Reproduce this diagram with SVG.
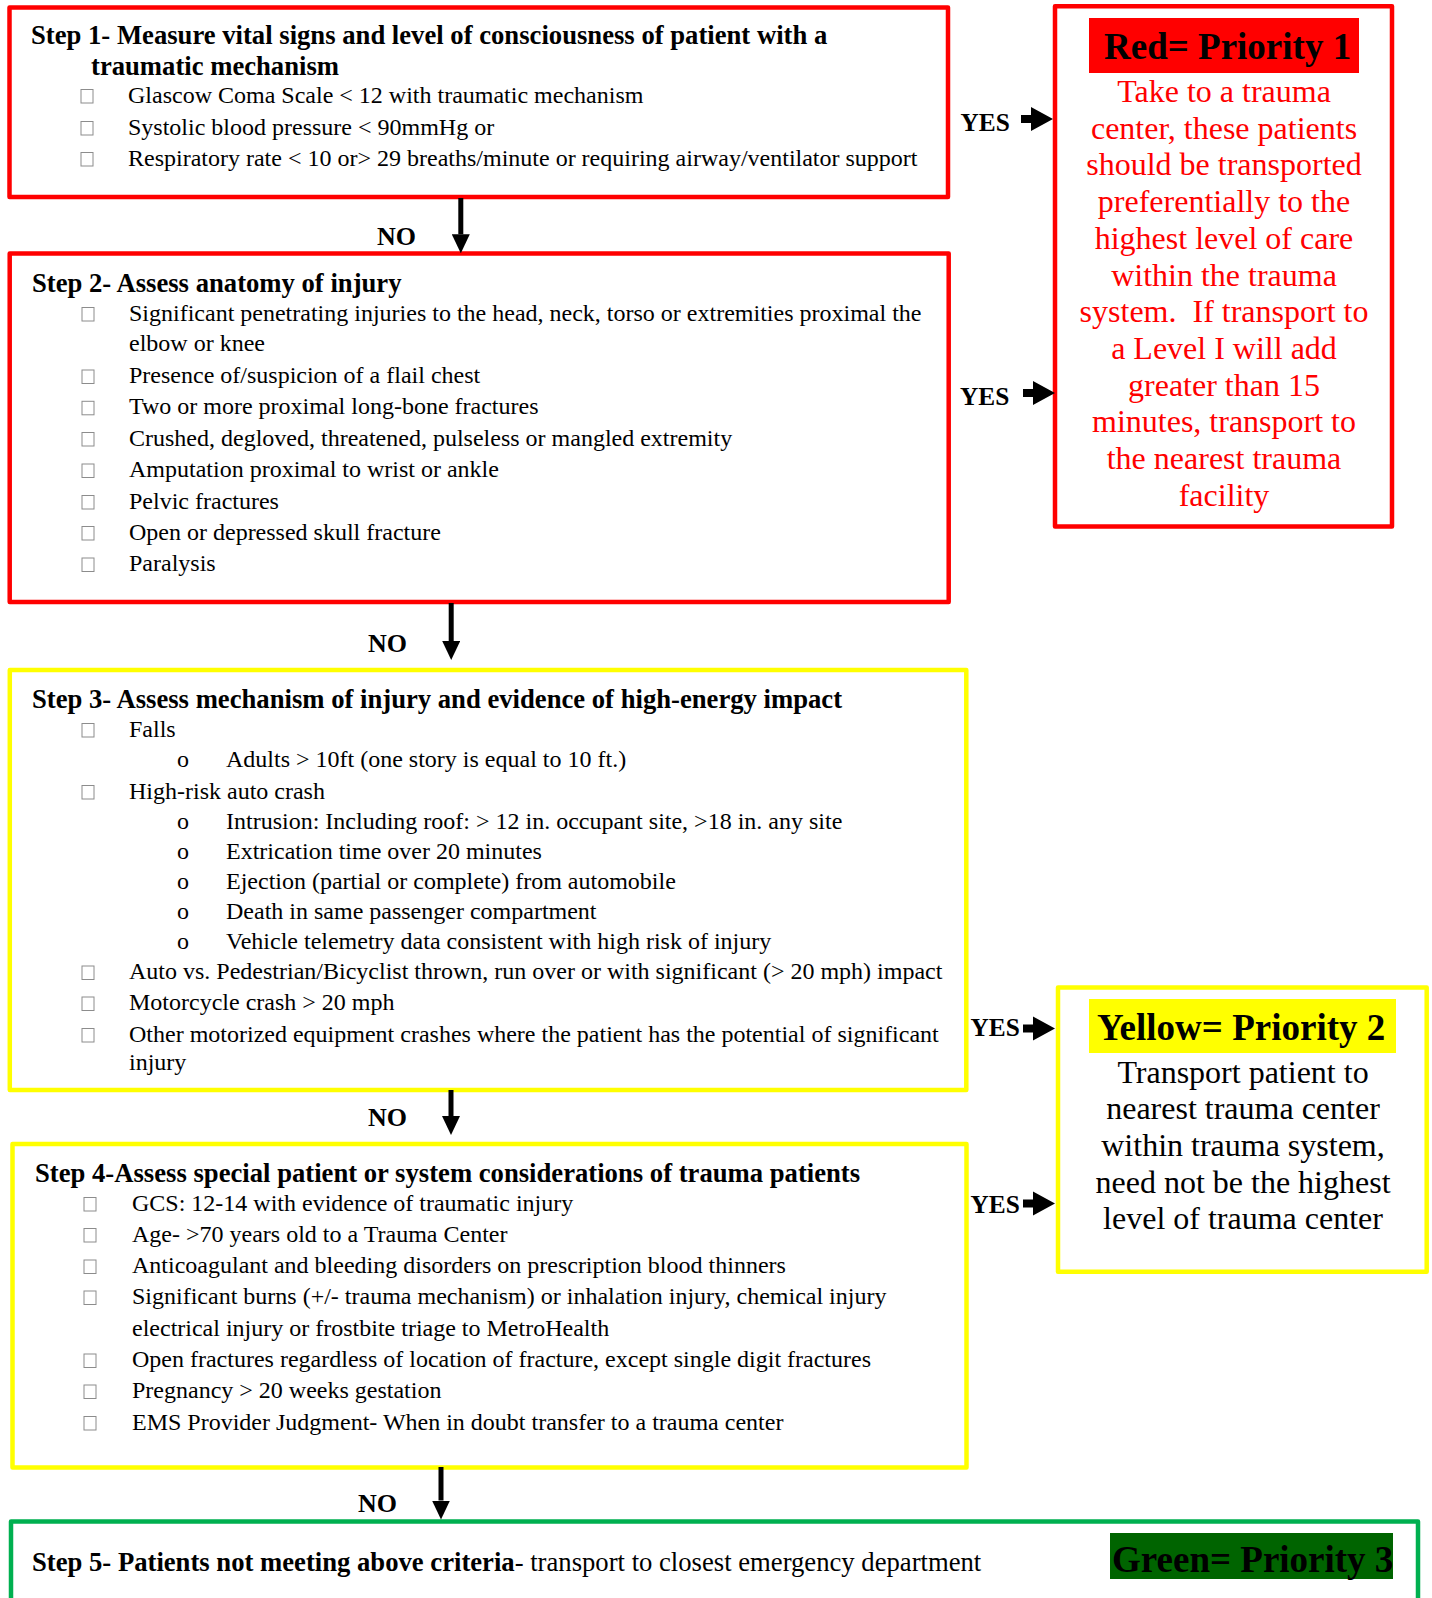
<svg xmlns="http://www.w3.org/2000/svg" xmlns:xlink="http://www.w3.org/1999/xlink" width="1432" height="1598" viewBox="0 0 1432 1598">
<style>
.box{fill:none;stroke-width:4.5;stroke-linejoin:round}
.red{stroke:#FF0000}
.yel{stroke:#FFFF00}
.grn{stroke:#00B050}
.f{font-family:'Liberation Serif','Times New Roman',serif}
.h{font-family:'Liberation Serif','Times New Roman',serif;font-weight:bold;font-size:26.67px;fill:#000}
.t{font-family:'Liberation Serif','Times New Roman',serif;font-size:24px;fill:#000}
.o{font-family:'Liberation Serif','Times New Roman',serif;font-size:24px;fill:#000}
.cb{fill:#fff;stroke:#8c8c8c;stroke-width:1}
.no{font-family:'Liberation Serif','Times New Roman',serif;font-weight:bold;font-size:26px;fill:#000}
.yes{font-family:'Liberation Serif','Times New Roman',serif;font-weight:bold;font-size:25.3px;fill:#000}
.big{font-family:'Liberation Serif','Times New Roman',serif;font-weight:bold;font-size:37px;fill:#000}
.rt{font-family:'Liberation Serif','Times New Roman',serif;font-size:32px;fill:#FF0000;text-anchor:middle}
.yt{font-family:'Liberation Serif','Times New Roman',serif;font-size:32px;fill:#000;text-anchor:middle}
.shaft{stroke:#000;stroke-width:5;fill:none}
</style>
<defs>
<rect id="cb" class="cb" width="12" height="13.5"/>
<marker id="ah" markerUnits="userSpaceOnUse" markerWidth="19" markerHeight="18" refX="0" refY="9" orient="auto">
<path d="M0,0 L19,9 L0,18 z" fill="#000"/>
</marker>
<path id="blk" d="M0,-4 L10,-4 L10,-12 L32,0 L10,12 L10,4 L0,4 z" fill="#000"/>
</defs>
<rect width="1432" height="1598" fill="#fff"/>

<g id="step1">
<rect class="box red" x="9.5" y="7.5" width="938.5" height="189.5"/>
<g transform="translate(0,1.5)">
<text class="h" x="31" y="42">Step 1- Measure vital signs and level of consciousness of patient with a</text>
<text class="h" x="91" y="73">traumatic mechanism</text>
<use xlink:href="#cb" x="81" y="88"/>
<text class="t" x="128" y="101">Glascow Coma Scale &lt; 12 with traumatic mechanism</text>
<use xlink:href="#cb" x="81" y="120"/>
<text class="t" x="128" y="133">Systolic blood pressure &lt; 90mmHg or</text>
<use xlink:href="#cb" x="81" y="151"/>
<text class="t" x="128" y="164">Respiratory rate &lt; 10 or&gt; 29 breaths/minute or requiring airway/ventilator support</text>
</g>
</g>

<g id="step2">
<rect class="box red" x="9.7" y="253.5" width="939" height="348.5"/>
<g transform="translate(0,1.5)">
<text class="h" x="32" y="290">Step 2- Assess anatomy of injury</text>
<use xlink:href="#cb" x="82" y="306"/>
<text class="t" x="129" y="319">Significant penetrating injuries to the head, neck, torso or extremities proximal the</text>
<text class="t" x="129" y="349">elbow or knee</text>
<use xlink:href="#cb" x="82" y="368.5"/>
<text class="t" x="129" y="381.5">Presence of/suspicion of a flail chest</text>
<use xlink:href="#cb" x="82" y="399.8"/>
<text class="t" x="129" y="412.8">Two or more proximal long-bone fractures</text>
<use xlink:href="#cb" x="82" y="431"/>
<text class="t" x="129" y="444">Crushed, degloved, threatened, pulseless or mangled extremity</text>
<use xlink:href="#cb" x="82" y="462.5"/>
<text class="t" x="129" y="475.5">Amputation proximal to wrist or ankle</text>
<use xlink:href="#cb" x="82" y="494"/>
<text class="t" x="129" y="507">Pelvic fractures</text>
<use xlink:href="#cb" x="82" y="525"/>
<text class="t" x="129" y="538">Open or depressed skull fracture</text>
<use xlink:href="#cb" x="82" y="556.5"/>
<text class="t" x="129" y="569.5">Paralysis</text>
</g>
</g>

<g id="step3">
<rect class="box yel" x="9.8" y="670" width="956.5" height="420"/>
<g transform="translate(0,1.5)">
<text class="h" x="32" y="706">Step 3- Assess mechanism of injury and evidence of high-energy impact</text>
<use xlink:href="#cb" x="82" y="722"/>
<text class="t" x="129" y="735">Falls</text>
<text class="o" x="177" y="765">o</text>
<text class="t" x="226" y="765">Adults &gt; 10ft (one story is equal to 10 ft.)</text>
<use xlink:href="#cb" x="82" y="784"/>
<text class="t" x="129" y="797">High-risk auto crash</text>
<text class="o" x="177" y="827">o</text>
<text class="t" x="226" y="827">Intrusion: Including roof: &gt; 12 in. occupant site, &gt;18 in. any site</text>
<text class="o" x="177" y="857">o</text>
<text class="t" x="226" y="857">Extrication time over 20 minutes</text>
<text class="o" x="177" y="887">o</text>
<text class="t" x="226" y="887">Ejection (partial or complete) from automobile</text>
<text class="o" x="177" y="917">o</text>
<text class="t" x="226" y="917">Death in same passenger compartment</text>
<text class="o" x="177" y="947">o</text>
<text class="t" x="226" y="947">Vehicle telemetry data consistent with high risk of injury</text>
<use xlink:href="#cb" x="82" y="964.5"/>
<text class="t" x="129" y="977.5">Auto vs. Pedestrian/Bicyclist thrown, run over or with significant (&gt; 20 mph) impact</text>
<use xlink:href="#cb" x="82" y="995.5"/>
<text class="t" x="129" y="1008.5">Motorcycle crash &gt; 20 mph</text>
<use xlink:href="#cb" x="82" y="1027"/>
<text class="t" x="129" y="1040">Other motorized equipment crashes where the patient has the potential of significant</text>
<text class="t" x="129" y="1068.5">injury</text>
</g>
</g>

<g id="step4">
<rect class="box yel" x="12.5" y="1144" width="954" height="323.5"/>
<g transform="translate(0,1.5)">
<text class="h" x="35" y="1180.5">Step 4-Assess special patient or system considerations of trauma patients</text>
<use xlink:href="#cb" x="84" y="1196"/>
<text class="t" x="132" y="1209">GCS: 12-14 with evidence of traumatic injury</text>
<use xlink:href="#cb" x="84" y="1227"/>
<text class="t" x="132" y="1240">Age- &gt;70 years old to a Trauma Center</text>
<use xlink:href="#cb" x="84" y="1258.5"/>
<text class="t" x="132" y="1271.5">Anticoagulant and bleeding disorders on prescription blood thinners</text>
<use xlink:href="#cb" x="84" y="1289.5"/>
<text class="t" x="132" y="1302.5">Significant burns (+/- trauma mechanism) or inhalation injury, chemical injury</text>
<text class="t" x="132" y="1334">electrical injury or frostbite triage to MetroHealth</text>
<use xlink:href="#cb" x="84" y="1352.5"/>
<text class="t" x="132" y="1365.5">Open fractures regardless of location of fracture, except single digit fractures</text>
<use xlink:href="#cb" x="84" y="1383.5"/>
<text class="t" x="132" y="1396.5">Pregnancy &gt; 20 weeks gestation</text>
<use xlink:href="#cb" x="84" y="1415"/>
<text class="t" x="132" y="1428">EMS Provider Judgment- When in doubt transfer to a trauma center</text>
</g>
</g>

<g id="step5">
<rect class="box grn" x="11" y="1521.5" width="1407" height="100"/>
<text class="f" x="32" y="1570.5" style="font-size:26.67px"><tspan font-weight="bold">Step 5- Patients not meeting above criteria</tspan>- transport to closest emergency department</text>
</g>

<g id="priority1">
<rect class="box red" x="1055" y="6.3" width="337" height="520.2"/>
<rect x="1089" y="18" width="270" height="55" fill="#FF0000"/>
<text class="big" x="1104" y="58.5">Red= Priority 1</text>
<text class="rt" x="1224" y="102">Take to a trauma</text>
<text class="rt" x="1224" y="138.7">center, these patients</text>
<text class="rt" x="1224" y="175.4">should be transported</text>
<text class="rt" x="1224" y="212.1">preferentially to the</text>
<text class="rt" x="1224" y="248.8">highest level of care</text>
<text class="rt" x="1224" y="285.5">within the trauma</text>
<text class="rt" x="1224" y="322.2" xml:space="preserve">system.  If transport to</text>
<text class="rt" x="1224" y="358.9">a Level I will add</text>
<text class="rt" x="1224" y="395.6">greater than 15</text>
<text class="rt" x="1224" y="432.3">minutes, transport to</text>
<text class="rt" x="1224" y="469">the nearest trauma</text>
<text class="rt" x="1224" y="505.7">facility</text>
</g>

<g id="priority2">
<rect class="box yel" x="1058" y="987.5" width="368.7" height="284.3"/>
<rect x="1089" y="999" width="307" height="54" fill="#FFFF00"/>
<text class="big" x="1097" y="1040">Yellow= Priority 2</text>
<text class="yt" x="1243" y="1082.5">Transport patient to</text>
<text class="yt" x="1243" y="1119.2">nearest trauma center</text>
<text class="yt" x="1243" y="1155.9">within trauma system,</text>
<text class="yt" x="1243" y="1192.6">need not be the highest</text>
<text class="yt" x="1243" y="1229.3">level of trauma center</text>
</g>

<g id="priority3">
<rect x="1110" y="1533" width="283" height="46" fill="#006400"/>
<text class="big" x="1112" y="1571.5">Green= Priority 3</text>
</g>

<g id="connectors">
<line class="shaft" x1="460.8" y1="198" x2="460.8" y2="234.3" marker-end="url(#ah)"/>
<text class="no" x="377" y="245">NO</text>
<line class="shaft" x1="451.2" y1="603" x2="451.2" y2="641" marker-end="url(#ah)"/>
<text class="no" x="368" y="651.5">NO</text>
<line class="shaft" x1="451" y1="1090" x2="451" y2="1116" marker-end="url(#ah)"/>
<text class="no" x="368" y="1126">NO</text>
<line class="shaft" x1="441" y1="1467" x2="441" y2="1500.5" marker-end="url(#ah)"/>
<text class="no" x="358" y="1511.5">NO</text>
<text class="yes" x="960.5" y="131">YES</text>
<use xlink:href="#blk" x="1021" y="119"/>
<text class="yes" x="960" y="405">YES</text>
<use xlink:href="#blk" x="1023" y="393"/>
<text class="yes" x="970.5" y="1036">YES</text>
<use xlink:href="#blk" x="1023" y="1028.5"/>
<text class="yes" x="970.5" y="1213">YES</text>
<use xlink:href="#blk" x="1023" y="1203.5"/>
</g>
</svg>
